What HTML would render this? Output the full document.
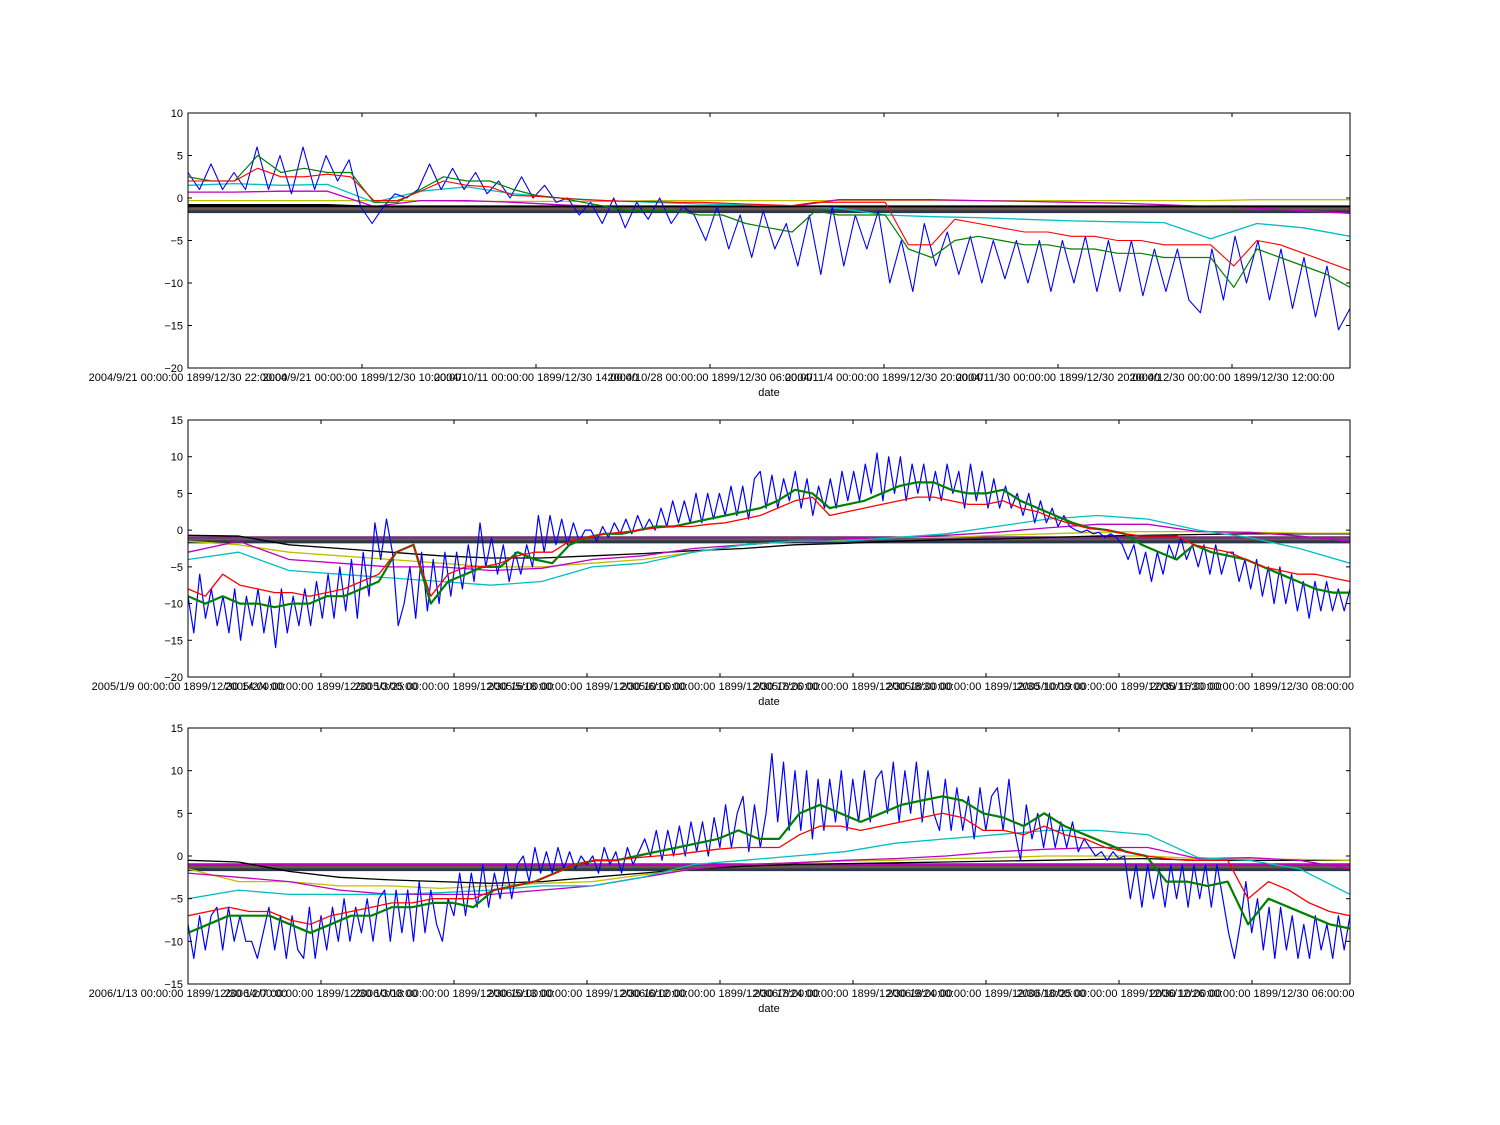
<!DOCTYPE html>
<html><head><meta charset="utf-8"><style>
body{margin:0;background:#fff;}
svg{display:block;font-family:"Liberation Sans",sans-serif;}
</style></head><body>
<svg id="chart" width="1500" height="1125" viewBox="0 0 1500 1125" xmlns="http://www.w3.org/2000/svg">
<rect width="1500" height="1125" fill="#fff"/>
</svg>
<script>
// ---------- Plot 1 data ----------
const p1Blue=[3,1,4,1,3,1, 6,1,5,0.5,6,1,5,2,4.5, -1,-3,-1, 0.5,0,1, 4,1,3.5,1,3,0.5, 2,0,2.5,0,1.5,-0.5, 0,-2,-0.5,-3,0,-3.5,-0.5,-2.5,0,-3,-1, -2,-5,-1,-6,-2,-7,-1.5,-6, -3,-8,-2,-9,-1,-8,-2,-6,-1.5, -10,-5,-11,-3,-8,-4,-9,-4.5,-10,-5,-9.5,-5,-10,-5,-11,-5,-10,-4.5,-11,-5,-11,-5,-11.5,-6,-11,-6,-12, -13.5,-6,-12, -4.5,-10,-5,-12,-6,-13,-7,-14,-8,-15.5,-13];
const p1Green=[2.5,2,2, 5,3,3.5,3,3, -0.5,-0.5, 1, 2.5,2,2, 1,0.3,0, -0.5,-1,-1.5,-1.5,-1.5,-2, -2,-3,-3.5,-4, -1.5,-2,-2,-2, -6,-7,-5,-4.5,-5,-5.5,-5.5,-6,-6,-6.5,-6.5,-7,-7,-7, -10.5, -6,-7,-8,-9,-10.5];
const p1Red=[2,2,2, 3.5,2.5,2.5,2.8,2.5, -0.3,-0.3, 0.8, 2,1.5,1.3, 0.3,0.2,0, -0.2,-0.3,-0.4,-0.4,-0.5,-0.5, -0.6,-0.7,-0.8,-0.9, -0.5,-0.5,-0.5,-0.5, -5.5,-5.5,-2.5,-3,-3.5,-4,-4,-4.5,-4.5,-5,-5,-5.5,-5.5,-5.5, -8, -5,-5.5,-6.5,-7.5,-8.5];
const p1Cyan=[1.5,1.7,1.5,1.6,-0.5,0.8,1.3,0.5,0,-0.3,-0.5,-0.7,-0.8,-1,-1.2,-2,-2.2,-2.3,-2.5,-2.7,-2.8,-2.9,-4.8,-3,-3.5,-4.5];
const p1Magenta=[0.7,0.7,0.8,0.8,-1,-0.3,-0.3,-0.5,-0.8,-1,-1,-1,-1,-1,-0.2,-0.2,-0.2,-0.3,-0.4,-0.5,-0.6,-0.8,-1,-1.2,-1.5,-1.8];
const p1Yellow=[-0.3,-0.3,-0.3,-0.3,-0.3,-0.3,-0.4,-0.4,-0.4,-0.4,-0.3,-0.3,-0.3,-0.3,-0.3,-0.3,-0.3,-0.3,-0.3,-0.3,-0.3,-0.3,-0.3,-0.2,-0.2,-0.2];
const p1Black=[-0.8,-0.8,-0.8,-0.8,-1,-1,-1,-1,-1,-1,-1,-1,-1,-1,-1,-1,-1,-1,-1,-1,-1,-1,-1,-1,-1,-1];
// ---------- Plot 2 data ----------
const p2Blue=[-9,-14,-6,-12, -8,-13,-9,-14,-8,-15,-9,-13,-8,-14,-9,-16,-8,-14,-9,-13,-8, -13,-7,-12,-6,-12,-5,-11,-4,-12,-3,-9, 1,-4,1.5,-3, -13,-10, -5,-12,-3,-11,-4,-10,-3,-9,-3,-8,-2,-7, 1,-5,-1,-6,-2,-7,-3,-6,-2,-5, 2,-3,2,-2,1.5,-2,1,-1.5,0, 0,-1.5,0.5,-1,1,-0.5,1.5,-0.5,2,0,1.5,0, 3,0.5,4,1,4,1,5,1,5,1.5,5,2,6,2,6,1.5,7, 8,3,7.5,3,7, 4,8,3,7,2,6,3,7,3,8,4,8, 4,9,5,10.5,4,10,5, 10,4,9,5,9,4,8,4,9,5, 8,3,9,4,8,3,7,3,6,3, 5,2,5,1,4,1,3,0.5,2, 0.5,0,-0.3,0,-0.5,-0.3,-1,-0.5,-1, -2,-4,-2,-6,-3,-7,-3,-6,-2,-4, -1,-4,-2,-5,-2,-6,-2,-6,-3, -3,-7,-4,-8,-4,-9,-5,-10,-5,-10,-6,-11,-7,-12,-7,-11,-7,-11,-8,-11,-8];
const p2Green=[-9,-10, -9,-10,-10,-10.5,-10,-10, -9,-9,-8,-7, -3,-2, -10, -7,-6,-5,-5, -3,-4,-4.5, -2,-1,-0.5, -0.5,0,0.5,0.5, 1,1.5,2,2.5,3,4, 5.5,5, 3,3.5,4,5, 6,6.5, 6.5,5.5,5, 5,5.5,4, 3,2,1, 0.3,0,-0.5, -2,-3,-4, -2,-3,-3.5, -4,-5,-6,-7,-8,-8.5,-8.5];
const p2Red=[-8,-9, -6,-7.5,-8,-8.5,-8.5,-9, -8.5,-8,-7,-6, -3,-2, -9, -6,-5,-5,-4.5, -3.5,-3,-3, -1.5,-1,-0.5, -0.3,0,0.3,0.5, 0.5,0.8,1,1.5,2,3, 4,4.5, 2,2.5,3,3.5, 4,4.5, 4.5,4,3.5, 3.5,4,3, 2.5,1.5,0.8, 0.2,0,-0.5, -0.8,-0.8,-0.8, -2,-2.5,-3, -4,-5,-5.5,-6,-6,-6.5,-7];
const p2Cyan=[-4,-3,-5.5,-6,-6.5,-7,-7.5,-7,-5,-4.5,-3,-2,-1.5,-1.5,-1,-0.5,0.5,1.5,2,1.5,0,-1,-2.5,-4.5];
const p2Magenta=[-3,-1.5,-4,-4.5,-5,-5,-5.5,-5.2,-4,-3.5,-2.5,-2,-1.5,-1.2,-1,-0.7,-0.3,0.3,0.8,0.8,-0.2,-0.3,-0.8,-1.5];
const p2Yellow=[-1.5,-2,-3,-3.5,-4,-4.5,-5,-5,-4.5,-4,-3,-2,-1.5,-1.3,-1,-1,-0.7,-0.5,-0.3,-0.2,-0.2,-0.3,-0.4,-0.4];
const p2Black=[-0.7,-0.8,-2,-2.5,-3,-3.5,-3.8,-3.8,-3.5,-3.2,-2.8,-2.5,-2,-1.8,-1.5,-1.3,-1.2,-1,-0.8,-0.7,-0.6,-0.5,-0.5,-0.5];
// ---------- Plot 3 data ----------
const p3Blue=[-8,-12,-7,-11,-7, -6,-11,-6,-10,-7,-10, -10,-12,-9, -6,-11,-7,-12,-7,-11, -12,-6,-12,-7,-11,-6,-10,-5,-10,-6,-9,-5,-10,-5, -4,-10,-4,-9,-4,-10,-3,-9,-4,-8, -10,-5,-7, -2,-7,-2,-6,-1,-6,-2,-5,-1,-5,-1, 0,-3,1,-2,0.5,-2,1,-1.5,0.5,-1.5,0,-1, 0,-2,1,-1,0.5,-2,1,-1,0.5, 2,0,3,-0.5,3,0,3.5,0,4,0.5,4,0,4.5,1, 6,1,5, 7,0.5,6,1,5, 12,4,11,3,10, 3,10,2,9,3, 9,4,10,3,9,4,10,4,9, 10,5,11,4,10,5,11,4,10,5, 3,9,3,8,3,7,2,8,3,7, 8,3,9,3,-0.5, 6,2,5,1,5,1,4,1,4,0.5,2, 1,0,0.5,-0.5,0.5,-0.3,0, -5,-1,-6,-1,-5,-1.5,-6,-1,-5,-1,-6,-1,-5,-1,-6,-1,-5, -9,-12,-8, -3,-9,-5,-11,-6,-12,-6,-11,-7,-12,-8,-12,-7,-11,-8,-12,-7,-11,-7];
const p3Green=[-9,-8, -7,-7, -7, -8,-9, -8,-7,-7,-6, -6,-5.5,-5.5, -6, -4,-3.5,-3, -2,-1,-0.5, -0.5,0, 0.5,1,1.5,2, 3, 2,2, 5,6, 5,4, 5,6, 6.5,7,6.5, 5,4.5,3.5, 5, 3.5,2.5,1.5, 0.5,0, -3,-3,-3.5,-3, -8, -5,-6,-7,-8,-8.5];
const p3Red=[-7,-6.5, -6,-6.5, -6.5, -7.5,-8, -7,-6.5,-6,-5.5, -5.5,-5,-5, -5, -4,-3.5,-3, -2,-1,-0.5, -0.5,-0.2, 0,0.2,0.5,0.8, 1, 1,1, 2.5,3.5, 3.5,3, 3.5,4, 4.5,5,4.5, 3,3,2.5, 3.5, 2.5,2,1, 0.5,0, -0.3,-0.5,-0.5,-0.5, -5, -3,-4,-5.5,-6.5,-7];
const p3Cyan=[-5,-4,-4.5,-4.5,-4.5,-4.3,-4,-3.5,-3.5,-2.5,-1,-0.5,0,0.5,1.5,2,2.5,3,3,2.5,-0.2,-0.5,-1.5,-4.5];
const p3Magenta=[-2,-2.5,-3,-4,-4.5,-4.5,-4.5,-4,-3.5,-2.5,-1.5,-1,-0.8,-0.5,-0.3,0,0.5,0.8,1,1,-0.3,-0.2,-0.5,-1.5];
const p3Yellow=[-1.5,-3,-3,-3.5,-3.5,-3.8,-3.5,-3.2,-3,-2.2,-1.5,-1,-0.8,-0.6,-0.5,-0.3,-0.2,0,0,0,-0.3,-0.4,-0.4,-0.5];
const p3Black=[-0.5,-0.7,-1.8,-2.5,-2.8,-3,-3.2,-3,-2.5,-2,-1.5,-1.2,-1,-0.9,-0.8,-0.7,-0.6,-0.5,-0.4,-0.3,-0.5,-0.5,-0.5,-0.5];
// flat band levels (values)
const bandLevels=[-1.0,-1.2,-1.35,-1.5,-1.65];
// tick labels
const p1Ticks=[-20,-15,-10,-5,0,5,10];
const p2Ticks=[-20,-15,-10,-5,0,5,10,15];
const p3Ticks=[-15,-10,-5,0,5,10,15];
const p1Labels=["2004/9/21 00:00:00 1899/12/30 22:00:00","2004/9/21 00:00:00 1899/12/30 10:00:00","2004/10/11 00:00:00 1899/12/30 14:00:00","2004/10/28 00:00:00 1899/12/30 06:00:00","2004/11/4 00:00:00 1899/12/30 20:00:00","2004/11/30 00:00:00 1899/12/30 20:00:00","2004/12/30 00:00:00 1899/12/30 12:00:00"];
const p2Labels=["2005/1/9 00:00:00 1899/12/30 14:00:00","2005/2/4 00:00:00 1899/12/30 10:00:00","2005/3/25 00:00:00 1899/12/30 16:00:00","2005/5/18 00:00:00 1899/12/30 10:00:00","2005/6/16 00:00:00 1899/12/30 18:00:00","2005/7/26 00:00:00 1899/12/30 18:00:00","2005/8/30 00:00:00 1899/12/30 10:00:00","2005/10/19 00:00:00 1899/12/30 16:00:00","2005/11/30 00:00:00 1899/12/30 08:00:00"];
const p3Labels=["2006/1/13 00:00:00 1899/12/30 14:00:00","2006/2/7 00:00:00 1899/12/30 10:00:00","2006/3/18 00:00:00 1899/12/30 10:00:00","2006/5/13 00:00:00 1899/12/30 10:00:00","2006/6/12 00:00:00 1899/12/30 18:00:00","2006/7/24 00:00:00 1899/12/30 18:00:00","2006/9/24 00:00:00 1899/12/30 18:00:00","2006/10/25 00:00:00 1899/12/30 10:00:00","2006/12/26 00:00:00 1899/12/30 06:00:00"];

const NS="http://www.w3.org/2000/svg";
const svg=document.getElementById('chart');
function mk(tag,attrs,parent){const e=document.createElementNS(NS,tag);for(const k in attrs)e.setAttribute(k,attrs[k]);(parent||svg).appendChild(e);return e;}

const L=188,R=1350;
const plots=[
 {name:'top',top:113,bot:368,min:-20,max:10,ticks:p1Ticks,labels:p1Labels,tickStep:174,gw:1.2,
  series:[[p1Yellow,'#bfbf00',1.3],[p1Magenta,'#bf00bf',1.3],[p1Cyan,'#00bfbf',1.3],[p1Black,'#000',1.5],[p1Blue,'#0000ff',1.1],[p1Green,'#008000',1.2],[p1Red,'#ff0000',1.1]]},
 {name:'middle',top:420,bot:677,min:-20,max:15,ticks:p2Ticks,labels:p2Labels,tickStep:133,
  series:[[p2Black,'#000',1.3],[p2Yellow,'#bfbf00',1.3],[p2Magenta,'#bf00bf',1.3],[p2Cyan,'#00bfbf',1.3],[p2Blue,'#0000ff',1.2],[p2Green,'#008000',2.2],[p2Red,'#ff0000',1.3]]},
 {name:'bottom',top:728,bot:984,min:-15,max:15,ticks:p3Ticks,labels:p3Labels,tickStep:133,
  series:[[p3Black,'#000',1.3],[p3Yellow,'#bfbf00',1.3],[p3Magenta,'#bf00bf',1.3],[p3Cyan,'#00bfbf',1.3],[p3Blue,'#0000ff',1.2],[p3Green,'#008000',2.2],[p3Red,'#ff0000',1.3]]}
];
const bandColors=['#000000','#555555','#7a5a50','#444444','#2a3550'];

plots.forEach((p,pi)=>{
  const g=mk('g',{});
  
  
  const y=v=>p.bot-(v-p.min)/(p.max-p.min)*(p.bot-p.top);
  const xs=(i,n)=>L+i/(n-1)*(R-L);
  const clipId='clip'+pi;
  const cp=mk('clipPath',{id:clipId},g);mk('rect',{x:L,y:p.top,width:R-L,height:p.bot-p.top},cp);
  const dg=mk('g',{'clip-path':'url(#'+clipId+')'},g);
  bandLevels.forEach((lv,bi)=>{
    const ln=mk('line',{x1:L,x2:R,y1:y(lv),y2:y(lv),stroke:bandColors[bi],'stroke-width':2.2},dg);
    
    
  });
  if(pi>0){
    const ml=mk('line',{x1:L,x2:R,y1:y(-1),y2:y(-1),stroke:'#bf00bf','stroke-width':1.5},dg);
    
    
  }
  p.series.forEach(([arr,col,w])=>{
    const pts=arr.map((v,i)=>xs(i,arr.length).toFixed(1)+','+y(v).toFixed(1)).join(' ');
    const pl=mk('polyline',{points:pts,fill:'none',stroke:col,'stroke-width':w,'stroke-linejoin':'round'},dg);
    
    
  });
  const fr=mk('rect',{x:L,y:p.top,width:R-L,height:p.bot-p.top,fill:'none',stroke:'#000','stroke-width':1},g);
  
  
  p.ticks.forEach(t=>{
    const yy=y(t);
    mk('line',{x1:L,x2:L+4,y1:yy,y2:yy,stroke:'#000'},g);
    mk('line',{x1:R-4,x2:R,y1:yy,y2:yy,stroke:'#000'},g);
    const tx=mk('text',{x:183,y:yy+4,'text-anchor':'end','font-size':11,fill:'#000'},g);
    tx.textContent=(t<0?'\u2212'+(-t):String(t));
    
    
  });
  p.labels.forEach((lab,i)=>{
    const xx=L+i*p.tickStep;
    mk('line',{x1:xx,x2:xx,y1:p.bot,y2:p.bot-4,stroke:'#000'},g);
    mk('line',{x1:xx,x2:xx,y1:p.top,y2:p.top+4,stroke:'#000'},g);
    const tx=mk('text',{x:xx,y:p.bot+13,'text-anchor':'middle','font-size':11,fill:'#000'},g);
    tx.textContent=lab;
    
    
  });
  const xt=mk('text',{x:769,y:p.bot+28,'text-anchor':'middle','font-size':11,fill:'#000'},g);
  xt.textContent='date';
  
  
});
</script>
</body></html>
